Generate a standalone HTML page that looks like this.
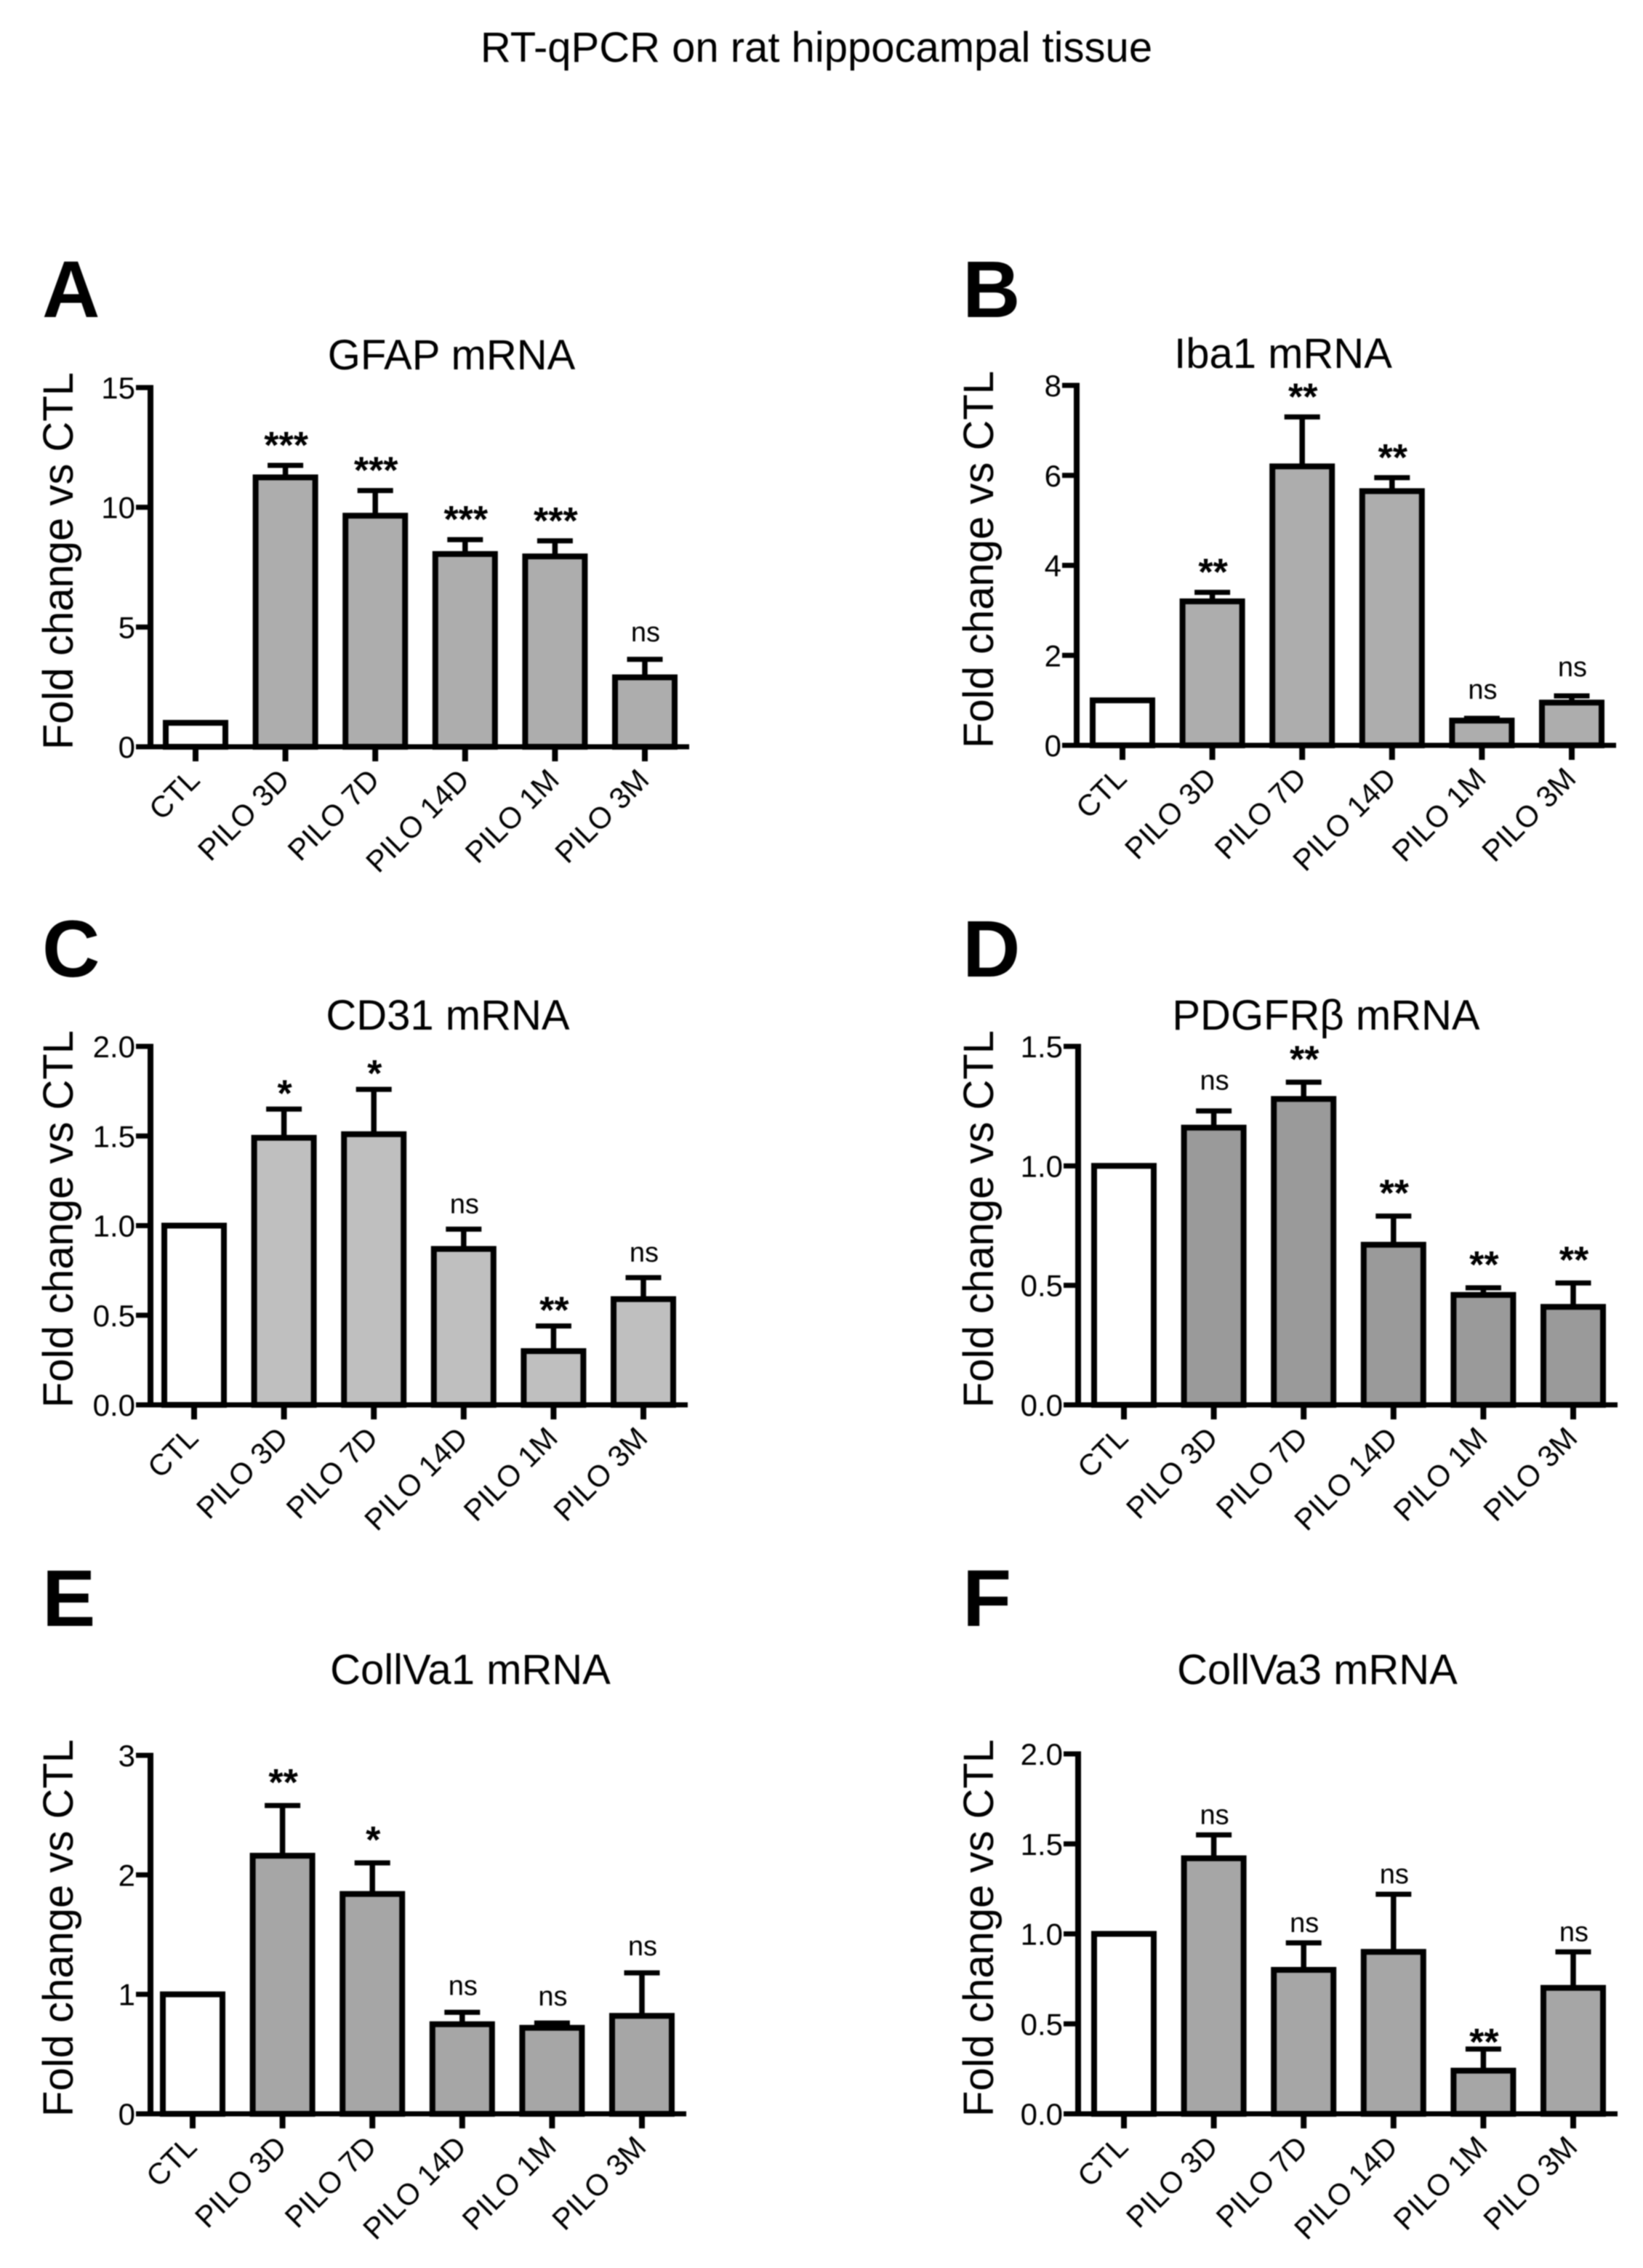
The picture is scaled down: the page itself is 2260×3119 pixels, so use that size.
<!DOCTYPE html>
<html lang="en">
<head>
<meta charset="utf-8">
<title>RT-qPCR on rat hippocampal tissue</title>
<style>
html,body{margin:0;padding:0;background:#fff;}
svg{display:block;filter:blur(0.7px);}
text{font-family:"Liberation Sans",sans-serif;fill:#000;}
</style>
</head>
<body>
<svg id="fig" xmlns="http://www.w3.org/2000/svg" width="2260" height="3119" viewBox="0 0 2260 3119">
<rect width="2260" height="3119" fill="#fff"/>
<text x="1123" y="85" text-anchor="middle" font-size="58">RT-qPCR on rat hippocampal tissue</text>
</svg>
<script>
const categories = ['CTL', 'PILO 3D', 'PILO 7D', 'PILO 14D', 'PILO 1M', 'PILO 3M'];

const gfapValues = [1, 11.25, 9.65, 8.05, 7.95, 2.9];
const gfapErrors = [0, 0.5, 1.05, 0.6, 0.65, 0.75];
const gfapSig = ['', '***', '***', '***', '***', 'ns'];
const gfapTicks = ['0', '5', '10', '15'];

const iba1Values = [1, 3.2, 6.2, 5.65, 0.55, 0.95];
const iba1Errors = [0, 0.2, 1.1, 0.3, 0.05, 0.15];
const iba1Sig = ['', '**', '**', '**', 'ns', 'ns'];
const iba1Ticks = ['0', '2', '4', '6', '8'];

const cd31Values = [1, 1.49, 1.51, 0.87, 0.3, 0.59];
const cd31Errors = [0, 0.16, 0.25, 0.11, 0.14, 0.12];
const cd31Sig = ['', '*', '*', 'ns', '**', 'ns'];
const cd31Ticks = ['0.0', '0.5', '1.0', '1.5', '2.0'];

const pdgfrValues = [1, 1.16, 1.28, 0.67, 0.46, 0.41];
const pdgfrErrors = [0, 0.07, 0.07, 0.12, 0.03, 0.1];
const pdgfrSig = ['', 'ns', '**', '**', '**', '**'];
const pdgfrTicks = ['0.0', '0.5', '1.0', '1.5'];

const col1Values = [1, 2.16, 1.84, 0.75, 0.72, 0.82];
const col1Errors = [0, 0.42, 0.26, 0.1, 0.04, 0.36];
const col1Sig = ['', '**', '*', 'ns', 'ns', 'ns'];
const col1Ticks = ['0', '1', '2', '3'];

const col3Values = [1, 1.42, 0.8, 0.9, 0.24, 0.7];
const col3Errors = [0, 0.13, 0.15, 0.32, 0.12, 0.2];
const col3Sig = ['', 'ns', 'ns', 'ns', '**', 'ns'];
const col3Ticks = ['0.0', '0.5', '1.0', '1.5', '2.0'];

const NS = 'http://www.w3.org/2000/svg';
const fig = document.getElementById('fig');

function make(parent, tag, attrs, txt) {
  const el = document.createElementNS(NS, tag);
  for (const k in attrs) el.setAttribute(k, attrs[k]);
  if (txt !== undefined) el.textContent = txt;
  parent.appendChild(el);
  return el;
}

function drawPanel(p) {
  const g = make(fig, 'g', {});
  
  

  const maxV = parseFloat(p.ticks[p.ticks.length - 1]);
  const minV = parseFloat(p.ticks[0]);
  const yScale = v => p.y0 - (v - minV) / (maxV - minV) * (p.y0 - p.yTop);
  const xScale = i => p.x0 + i * p.step;

  const letter = make(g, 'text', {x: p.letterX, y: p.letterY, 'font-size': 110, 'font-weight': 'bold'}, p.letter);
  
  

  const title = make(g, 'text', {x: p.titleX, y: p.titleY, 'text-anchor': 'middle', 'font-size': 58}, p.title);
  
  

  const ytitle = make(g, 'text', {transform: 'translate(' + p.yTitleX + ',' + (p.y0 + 4) + ') rotate(-90)', 'font-size': 58}, 'Fold change vs CTL');
  
  

  categories.forEach((c, i) => {
    const cx = xScale(i);
    const v = p.values[i];
    const e = p.errors[i];
    const top = yScale(v);
    if (e > 0) {
      const eTop = yScale(v + e);
      const stem = make(g, 'line', {x1: cx, x2: cx, y1: top, y2: eTop, stroke: '#000', 'stroke-width': 7.5});
      
      
      const cap = make(g, 'line', {x1: cx - 24.5, x2: cx + 24.5, y1: eTop, y2: eTop, stroke: '#000', 'stroke-width': 7});
      
      
    }
    const bar = make(g, 'rect', {x: cx - p.barW / 2, y: top, width: p.barW, height: p.y0 - top, fill: i === 0 ? '#fff' : p.fill, stroke: '#000', 'stroke-width': 8});
    
    

    const tick = make(g, 'line', {x1: cx, x2: cx, y1: p.y0, y2: p.y0 + 20, stroke: '#000', 'stroke-width': 8});
    
    

    const lx = cx + 8;
    const ly = p.y0 + 48;
    const lab = make(g, 'text', {transform: 'translate(' + lx + ',' + ly + ') rotate(-45)', 'text-anchor': 'end', 'font-size': 41}, c);
    
    

    const s = p.sig[i];
    if (s) {
      const sy = yScale(v + e) - (s === 'ns' ? p.nsGap : p.starGap);
      const st = make(g, 'text', {x: cx + 1, y: sy, 'text-anchor': 'middle', 'font-size': s === 'ns' ? 38 : 52, 'font-weight': s === 'ns' ? 'normal' : 'bold'}, s);
      
      
    }
  });

  const xAxis = make(g, 'line', {x1: p.axisX - 18, x2: xScale(5) + 61, y1: p.y0, y2: p.y0, stroke: '#000', 'stroke-width': 7});
  
  
  const yAxis = make(g, 'line', {x1: p.axisX, x2: p.axisX, y1: p.yTop - 3.5, y2: p.y0 + 3, stroke: '#000', 'stroke-width': 8});
  
  

  p.ticks.forEach((t, i) => {
    const y = yScale(parseFloat(t));
    const tk = make(g, 'line', {x1: p.axisX - 20, x2: p.axisX, y1: y, y2: y, stroke: '#000', 'stroke-width': 7});
    
    
    const tl = make(g, 'text', {x: p.axisX - 21, y: y + 15, 'text-anchor': 'end', 'font-size': 42}, t);
    
    
  });
}

drawPanel({key: 'gfap', letter: 'A', title: 'GFAP mRNA', values: gfapValues, errors: gfapErrors, sig: gfapSig, ticks: gfapTicks,
  axisX: 207, y0: 1027, yTop: 533, x0: 269, step: 123.6, barW: 82, fill: '#adadad', starGap: 10, nsGap: 25,
  letterX: 58, letterY: 436, titleX: 621, titleY: 508, yTitleX: 100});
drawPanel({key: 'iba1', letter: 'B', title: 'Iba1 mRNA', values: iba1Values, errors: iba1Errors, sig: iba1Sig, ticks: iba1Ticks,
  axisX: 1481, y0: 1025, yTop: 530, x0: 1544, step: 123.6, barW: 82, fill: '#adadad', starGap: 10, nsGap: 27,
  letterX: 1324, letterY: 436, titleX: 1765, titleY: 506, yTitleX: 1366});
drawPanel({key: 'cd31', letter: 'C', title: 'CD31 mRNA', values: cd31Values, errors: cd31Errors, sig: cd31Sig, ticks: cd31Ticks,
  axisX: 207, y0: 1932, yTop: 1439, x0: 267, step: 123.6, barW: 82, fill: '#bfbfbf', starGap: 4, nsGap: 22,
  letterX: 58, letterY: 1343, titleX: 616, titleY: 1416, yTitleX: 100});
drawPanel({key: 'pdgfr', letter: 'D', title: 'PDGFRβ mRNA', values: pdgfrValues, errors: pdgfrErrors, sig: pdgfrSig, ticks: pdgfrTicks,
  axisX: 1483, y0: 1932, yTop: 1439, x0: 1546, step: 123.6, barW: 82, fill: '#9a9a9a', starGap: 14, nsGap: 29,
  letterX: 1324, letterY: 1343, titleX: 1824, titleY: 1416, yTitleX: 1366});
drawPanel({key: 'col1', letter: 'E', title: 'CollVa1 mRNA', values: col1Values, errors: col1Errors, sig: col1Sig, ticks: col1Ticks,
  axisX: 207, y0: 2907, yTop: 2414, x0: 265, step: 123.6, barW: 82, fill: '#a6a6a6', starGap: 14, nsGap: 24,
  letterX: 58, letterY: 2236, titleX: 647, titleY: 2316, yTitleX: 100});
drawPanel({key: 'col3', letter: 'F', title: 'CollVa3 mRNA', values: col3Values, errors: col3Errors, sig: col3Sig, ticks: col3Ticks,
  axisX: 1483, y0: 2907, yTop: 2412, x0: 1546, step: 123.6, barW: 82, fill: '#a6a6a6', starGap: -8, nsGap: 15,
  letterX: 1324, letterY: 2236, titleX: 1812, titleY: 2316, yTitleX: 1366});
</script>
</body>
</html>
